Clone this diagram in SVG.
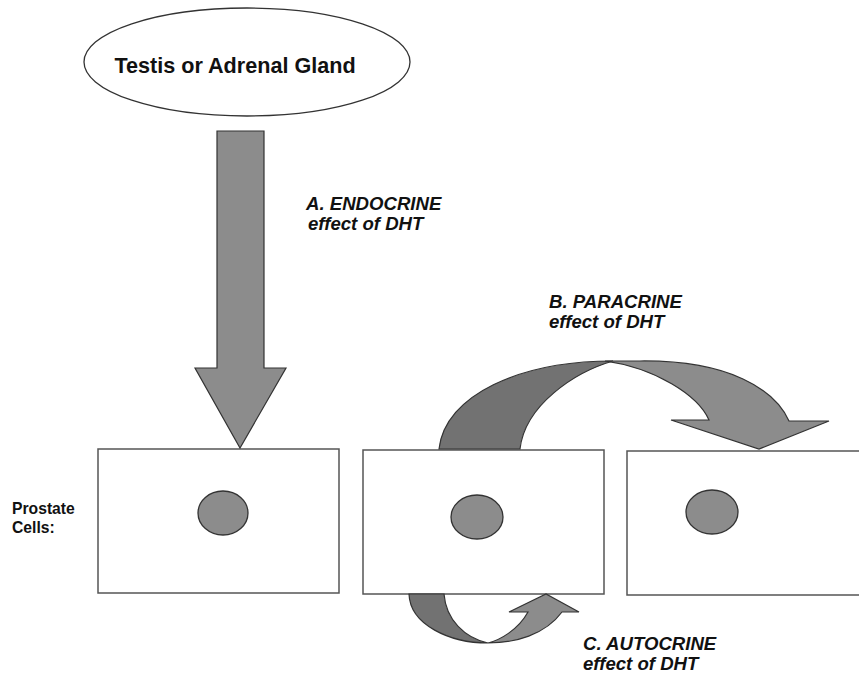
<svg xmlns="http://www.w3.org/2000/svg" width="859" height="675" viewBox="0 0 859 675">
<style>
.bg{fill:#fff}
.cell{fill:#fff;stroke:#555;stroke-width:1.5}
.nuc{fill:#8c8c8c;stroke:#333;stroke-width:1.3}
.arrowLight{fill:#8c8c8c;stroke:#333;stroke-width:1.2;stroke-linejoin:miter}
.arrowDark{fill:#727272;stroke:#333;stroke-width:1.2}
.t{font-family:"Liberation Sans",Arial,sans-serif;font-weight:bold;fill:#111}
.lbl{font-family:"Liberation Sans",Arial,sans-serif;font-weight:bold;font-style:italic;font-size:18.6px;fill:#111}
</style>
<rect class="bg" x="0" y="0" width="859" height="675"/>
<g id="gland">
<ellipse cx="247" cy="62" rx="163" ry="54" fill="#fff" stroke="#333" stroke-width="1.3"/>
<text class="t" x="235" y="73" font-size="21.6" text-anchor="middle">Testis or Adrenal Gland</text>
</g>
<g id="cell1">
<rect class="cell" x="98" y="449" width="241" height="144"/>
<ellipse class="nuc" cx="223" cy="513" rx="25" ry="22"/>
</g>
<g id="cell2">
<rect class="cell" x="363" y="450" width="241" height="144"/>
<ellipse class="nuc" cx="477" cy="517" rx="26" ry="22"/>
</g>
<g id="cell3">
<rect class="cell" x="627" y="451" width="250" height="144"/>
<ellipse class="nuc" cx="712" cy="512" rx="26" ry="22"/>
</g>
<g id="label-cells">
<text class="t" font-size="15.7" x="12" y="514">Prostate</text>
<text class="t" font-size="15.7" x="12" y="533">Cells:</text>
</g>
<g id="connectors">
<path id="endocrine" class="arrowLight" d="M217,131 L264,131 L264,368 L286,368 L240,448 L195,368 L217,368 Z"/>
<g id="paracrine">
<path class="arrowDark" d="M439,449 C445,395 520,361 613,361 C575,372 525,405 520,449 Z"/>
<path class="arrowLight" d="M605,361 L640,361 C730,360 775,390 789,421 L829,421 L759,449 L671,420 L709,420 C698,395 655,368 605,361 Z"/>
</g>
<g id="autocrine">
<path class="arrowDark" d="M409,594 C410,625 450,643 488,643 C465,638 446,620 444,594 Z"/>
<path class="arrowLight" d="M488,643 C515,643 545,635 562,612 L579,612 L546,594 L509,612 L528,612 C518,630 500,640 488,643 Z"/>
</g>
</g>
<g id="label-a">
<text class="lbl" x="306" y="210">A. ENDOCRINE</text>
<text class="lbl" x="308" y="230">effect of DHT</text>
</g>
<g id="label-b">
<text class="lbl" x="549" y="308">B. PARACRINE</text>
<text class="lbl" x="549" y="328">effect of DHT</text>
</g>
<g id="label-c">
<text class="lbl" x="583" y="650">C. AUTOCRINE</text>
<text class="lbl" x="583" y="670">effect of DHT</text>
</g>
</svg>
